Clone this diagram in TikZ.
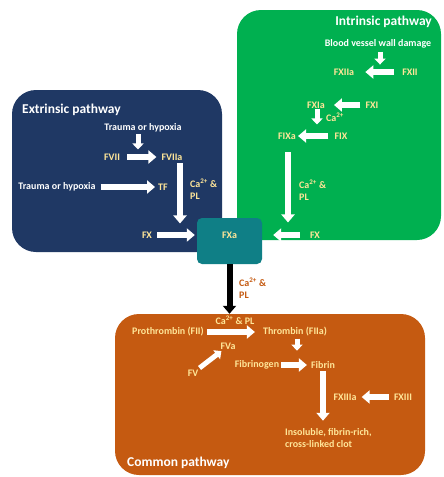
\documentclass[tikz,border=0pt]{standalone}
\usepackage{fontspec}
\setmainfont{Carlito}
\usetikzlibrary{arrows.meta}
\definecolor{navy}{HTML}{1F3864}
\definecolor{grn}{HTML}{00B050}
\definecolor{tealbox}{HTML}{0F7F86}
\definecolor{orng}{HTML}{C55A11}
\definecolor{lbl}{HTML}{FFE699}
\begin{document}
\begin{tikzpicture}[x=1pt,y=-1pt,
  lab/.style={font=\bfseries\fontsize{10}{12}\selectfont, text=lbl, inner sep=1pt},
  wlab/.style={lab, text=white},
  ttl/.style={font=\bfseries\fontsize{13.5}{15}\selectfont, text=white, inner sep=0pt},
  wa/.style={draw=white, line width=6pt, -{Triangle[length=8pt,width=13pt]}},
  was/.style={draw=white, line width=5pt, -{Triangle[length=6pt,width=11pt]}},
  panel/.style={rounded corners=24pt, inner sep=0pt, draw=none}]
\useasboundingbox (0,0) rectangle (444,477);
\fill[white] (0,0) rectangle (444,477);
% panels
\node[panel, fill=grn, minimum width=204pt, minimum height=230pt] (grnpan) at (339,125) {};
\node[panel, fill=navy, minimum width=210pt, minimum height=162pt] (navpan) at (117,171) {};
\node[panel, fill=orng, minimum width=310pt, minimum height=161pt] (compan) at (270,394.5) {};
\node[fill=tealbox, rounded corners=5pt, inner sep=0pt, minimum width=65pt, minimum height=46pt] (fxabox) at (229.5,241) {};
\node[lab] (fxa) at (229.5,235) {FXa};
% extrinsic
\node[ttl, anchor=west] (ext) at (22,110) {Extrinsic pathway};
\node[wlab] (tr1) at (143,128) {Trauma or hypoxia};
\node[lab] (fvii) at (112,157) {FVII};
\node[lab] (fviia) at (172,157) {FVIIa};
\node[wlab] (tr2) at (57,187) {Trauma or hypoxia};
\node[lab] (tf) at (163,187) {TF};
\node[lab, anchor=west, align=left] (ca1) at (189,189) {Ca\textsuperscript{2+} \&\\PL};
\node[lab] (fx1) at (147,235) {FX};
\draw[was] ([shift={(-5,1)}]tr1.south) -- ++(0,15);
\draw[wa, shorten <=6pt, shorten >=4pt] (fvii) -- (fviia);
\draw[wa] ([shift={(8,2)}]fviia.south) -- ++(0,60);
\draw[wa, shorten <=4pt, shorten >=2pt] (tr2) -- (tf);
\draw[wa, shorten <=4pt, shorten >=2pt] (fx1) -- (fx1 -| fxabox.west);
% intrinsic
\node[ttl, anchor=east] (intr) at (432,22) {Intrinsic pathway};
\node[wlab] (bvw) at (378,44) {Blood vessel wall damage};
\node[lab] (fxiia) at (344,72) {FXIIa};
\node[lab] (fxii) at (410,72) {FXII};
\node[lab] (fxia) at (316,105) {FXIa};
\node[lab] (fxi) at (372,105) {FXI};
\node[lab, anchor=west] (ca2) at (325,117) {Ca\textsuperscript{2+}};
\node[lab] (fixa) at (287,136) {FIXa};
\node[lab] (fix) at (341,136) {FIX};
\node[lab, anchor=west, align=left] (ca3) at (298,190) {Ca\textsuperscript{2+} \&\\PL};
\node[lab] (fx2) at (315,235) {FX};
\draw[was] ([shift={(2,2)}]bvw.south) -- ++(0,13);
\draw[wa, shorten <=7pt, shorten >=10pt] (fxii) -- (fxiia);
\draw[wa, shorten <=4pt, shorten >=8pt] (fxi) -- (fxia);
\draw[was] ([shift={(1,0)}]fxia.south) -- ++(0,15);
\draw[wa, shorten <=5pt, shorten >=1pt] (fix) -- (fixa);
\draw[wa] ([shift={(1,12)}]fixa.south) -- ++(0,70);
\draw[wa, shorten <=9pt, shorten >=11pt] (fx2) -- (fx2 -| fxabox.east);
% link to common
\draw[black, line width=6pt, -{Triangle[length=8pt,width=13pt]}] (fxabox) -- (fxabox |- compan.north);
\node[lab, text=orng, anchor=west, align=left] (ca5) at (238,288) {Ca\textsuperscript{2+} \&\\PL};
% common
\node[lab] (pro) at (168,332) {Prothrombin (FII)};
\node[lab] (ca4) at (235,320) {Ca\textsuperscript{2+} \& PL};
\node[lab] (thr) at (295,332) {Thrombin (FIIa)};
\node[lab] (fva) at (228,346) {FVa};
\node[lab] (fv) at (193,373) {FV};
\node[lab] (fbg) at (257,365) {Fibrinogen};
\node[lab] (fbn) at (323,365) {Fibrin};
\node[lab] (fxiiia) at (345,397) {FXIIIa};
\node[lab] (fxiii) at (403,397) {FXIII};
\node[lab, anchor=west, align=left] (clot) at (284,438) {Insoluble, fibrin-rich,\\cross-linked clot};
\node[ttl, anchor=west] (com) at (127,463) {Common pathway};
\draw[wa, shorten <=2pt, shorten >=7pt] (pro) -- (thr);
\draw[was, shorten <=1pt, shorten >=1pt] (fv) -- (fva);
\draw[was] ([shift={(2,1)}]thr.south) -- ++(0,12);
\draw[wa, shorten <=1pt, shorten >=3pt] (fbg) -- (fbn);
\draw[wa] ([shift={(0,1)}]fbn.south) -- ++(0,50);
\draw[wa, shorten <=4pt, shorten >=4pt] (fxiii) -- (fxiiia);
\end{tikzpicture}
\end{document}
